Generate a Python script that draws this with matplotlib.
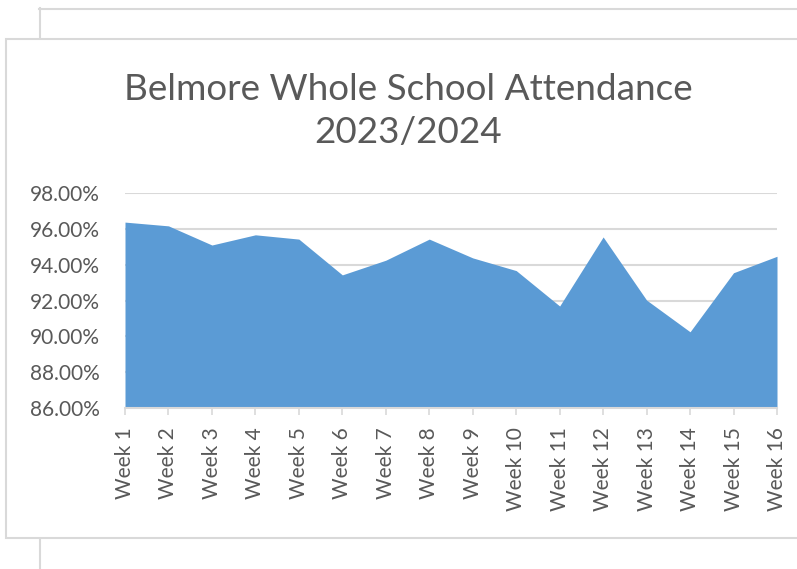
import matplotlib
matplotlib.use("Agg")
import matplotlib.pyplot as plt
from matplotlib.patches import Rectangle
from matplotlib.lines import Line2D
import numpy as np

weeks = [f"Week {i}" for i in range(1, 17)]
attendance = [96.39, 96.18, 95.11, 95.68, 95.44, 93.44, 94.26, 95.44,
              94.39, 93.68, 91.70, 95.56, 92.03, 90.26, 93.56, 94.48]
yticks = [86, 88, 90, 92, 94, 96, 98]
title = "Belmore Whole School Attendance\n2023/2024"

FONT = "Lato"
TXT = "#595959"
GRID = "#D9D9D9"
FILL = "#5B9BD5"

W, H = 797, 569
fig = plt.figure(figsize=(W / 100, H / 100), dpi=100)
fig.patch.set_facecolor("white")

def fx(px):
    return px / W

def fy(py):
    return 1 - py / H

# background frames (outer chart behind, inner chart box)
fig.add_artist(Line2D([fx(39), fx(W + 5)], [fy(8.5), fy(8.5)], color=GRID, lw=1.5, zorder=-3))
fig.add_artist(Line2D([fx(39.5), fx(39.5)], [fy(8), fy(39)], color=GRID, lw=1.5, zorder=-3))
fig.add_artist(Line2D([fx(39.5), fx(39.5)], [fy(538), fy(H + 5)], color=GRID, lw=1.5, zorder=-3))
fig.add_artist(Rectangle((fx(6), fy(538)), fx(W + 20) - fx(6), fy(39) - fy(538),
                         facecolor="white", edgecolor=GRID, lw=1.5, zorder=-2))

ax = fig.add_axes([fx(125), fy(408), fx(777) - fx(125), fy(193.3) - fy(408)])
ax.set_zorder(2)
ax.patch.set_alpha(0)
x = np.arange(len(weeks))
ax.fill_between(x, yticks[0], attendance, color=FILL, lw=0, zorder=2)
ax.set_xlim(0, len(weeks) - 1)
ax.set_ylim(yticks[0], yticks[-1])
ax.set_yticks(yticks)
ax.set_yticklabels([f"{v:.2f}%" for v in yticks], fontfamily=FONT, fontsize=15, color=TXT)
ax.set_xticks(x)
ax.set_xticklabels(weeks, rotation=90, fontfamily=FONT, fontsize=15, color=TXT,
                   va="top", ha="center")
ax.tick_params(axis="y", length=0, pad=18)
ax.tick_params(axis="x", length=5, width=1.2, color=GRID, pad=9, direction="out")
ax.grid(axis="y", color=GRID, lw=1.5, zorder=1)
ax.set_axisbelow(True)
for s in ["top", "right", "left"]:
    ax.spines[s].set_visible(False)
ax.spines["bottom"].set_color(GRID)
ax.spines["bottom"].set_linewidth(1.5)
ax.spines["bottom"].set_zorder(3)

fig.text(fx(408), fy(111), title, ha="center", va="center", fontfamily=FONT,
         fontsize=26.6, color=TXT, linespacing=1.36, zorder=3)

fig.savefig("out.png", dpi=100)
